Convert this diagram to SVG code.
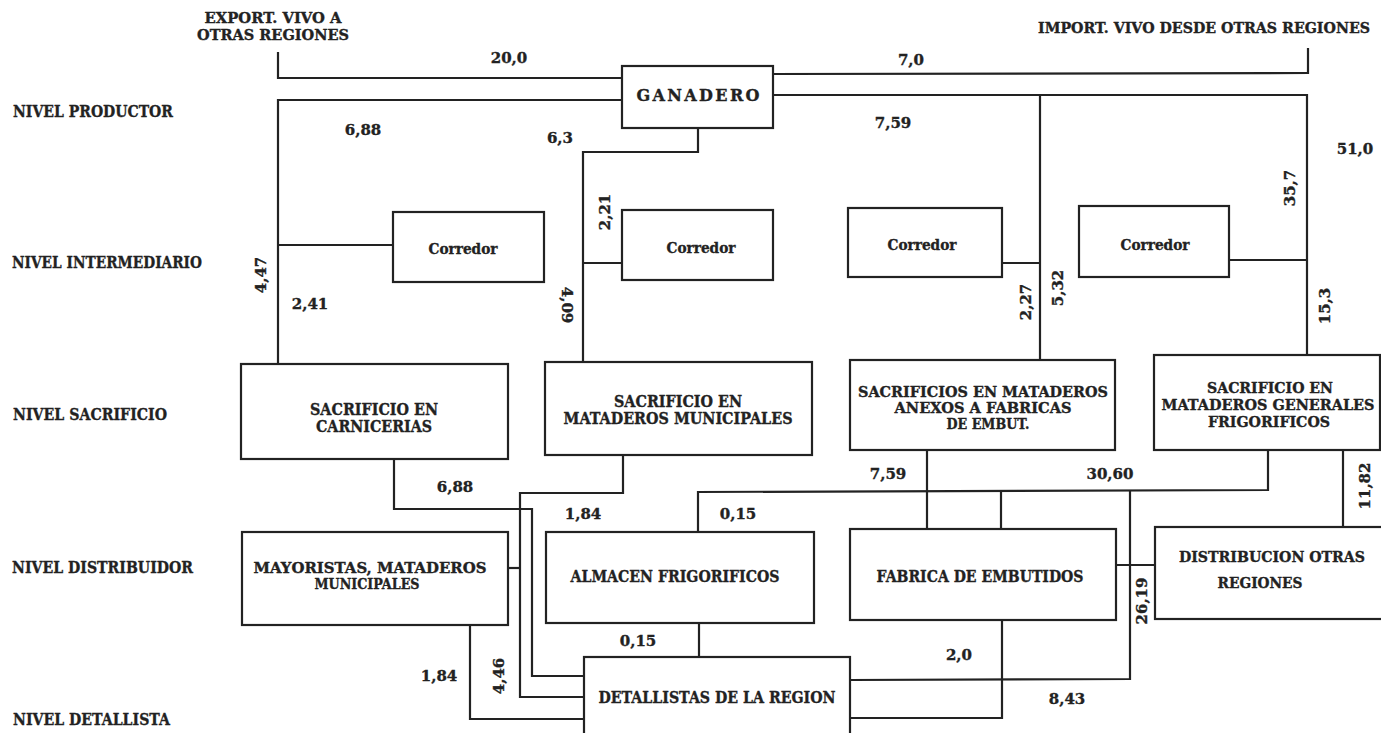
<svg xmlns="http://www.w3.org/2000/svg" width="1381" height="733" viewBox="0 0 1381 733">
<style>
.bx{fill:none;stroke:#222;stroke-width:2.2}
.ln{fill:none;stroke:#222;stroke-width:2.2}
text{font-family:"DejaVu Serif","Liberation Serif",serif;font-weight:bold;fill:#222;stroke:#222;stroke-width:0.35}
.t{font-size:16px;text-anchor:middle}
.s{font-size:14px;text-anchor:middle}
.lv{font-size:17px}
.n{font-size:15px;text-anchor:middle}
.c{font-size:15px;text-anchor:middle}
</style>
<rect width="1381" height="733" fill="#fff"/>
<g id="levels">
<text class="lv" x="13" y="117" textLength="160" lengthAdjust="spacingAndGlyphs">NIVEL PRODUCTOR</text>
<text class="lv" x="12" y="268" textLength="190" lengthAdjust="spacingAndGlyphs">NIVEL INTERMEDIARIO</text>
<text class="lv" x="13" y="420" textLength="154" lengthAdjust="spacingAndGlyphs">NIVEL SACRIFICIO</text>
<text class="lv" x="12" y="573" textLength="181" lengthAdjust="spacingAndGlyphs">NIVEL DISTRIBUIDOR</text>
<text class="lv" x="13" y="725" textLength="157" lengthAdjust="spacingAndGlyphs">NIVEL DETALLISTA</text>
</g>
<g id="export">
<text class="s" x="273" y="23" textLength="137" lengthAdjust="spacingAndGlyphs">EXPORT. VIVO A</text>
<text class="s" x="273" y="40" textLength="152" lengthAdjust="spacingAndGlyphs">OTRAS REGIONES</text>
</g>
<g id="import">
<text class="s" x="1204" y="33" textLength="332" lengthAdjust="spacingAndGlyphs">IMPORT. VIVO DESDE OTRAS REGIONES</text>
</g>
<g id="connectors">
<polyline class="ln" points="278,52 278,78 622,78"/>
<polyline class="ln" points="622,100 278,100 278,364"/>
<polyline class="ln" points="278,245 393,245"/>
<polyline class="ln" points="698,128 698,152 583,152 583,362"/>
<polyline class="ln" points="583,263 622,263"/>
<polyline class="ln" points="773,74 1308,73 1308,48"/>
<polyline class="ln" points="773,95 1307,95 1307,355"/>
<polyline class="ln" points="1040,95 1040,360"/>
<polyline class="ln" points="1040,263 1002,263"/>
<polyline class="ln" points="1307,260 1229,260"/>
<polyline class="ln" points="394,459 394,509 532,509 532,676 584,676"/>
<polyline class="ln" points="623,455 623,493 520,493 520,697 584,697"/>
<polyline class="ln" points="508,568 520,568"/>
<polyline class="ln" points="470,625 470,719 584,719"/>
<polyline class="ln" points="699,623 699,657"/>
<polyline class="ln" points="698,532 698,492 1268,490 1268,450"/>
<polyline class="ln" points="927,450 927,529"/>
<polyline class="ln" points="1001,491 1001,529"/>
<polyline class="ln" points="1130,490 1130,679 850,680"/>
<polyline class="ln" points="1116,565 1155,565"/>
<polyline class="ln" points="1002,620 1002,718 850,718"/>
<polyline class="ln" points="1343,450 1343,527"/>
</g>
<g id="labels">
<text class="n" x="509" y="63">20,0</text>
<text class="n" x="911" y="65">7,0</text>
<text class="n" x="363" y="135">6,88</text>
<text class="n" x="560" y="143">6,3</text>
<text class="n" x="893" y="128">7,59</text>
<text class="n" x="1355" y="154">51,0</text>
<text class="n" x="310" y="309">2,41</text>
<text class="n" transform="translate(266,275) rotate(-90)">4,47</text>
<text class="n" transform="translate(610,212) rotate(-90)">2,21</text>
<text class="n" transform="translate(562,305) rotate(90)">4,09</text>
<text class="n" transform="translate(1031,302) rotate(-90)">2,27</text>
<text class="n" transform="translate(1063,288) rotate(-90)">5,32</text>
<text class="n" transform="translate(1295,188) rotate(-90)">35,7</text>
<text class="n" transform="translate(1330,306) rotate(-90)">15,3</text>
<text class="n" x="455" y="492">6,88</text>
<text class="n" x="888" y="479">7,59</text>
<text class="n" x="1110" y="479">30,60</text>
<text class="n" transform="translate(1370,486) rotate(-90)">11,82</text>
<text class="n" x="583" y="519">1,84</text>
<text class="n" x="738" y="519">0,15</text>
<text class="n" x="638" y="646">0,15</text>
<text class="n" x="439" y="681">1,84</text>
<text class="n" transform="translate(504,676) rotate(-90)">4,46</text>
<text class="n" transform="translate(1147,601) rotate(-90)">26,19</text>
<text class="n" x="959" y="660">2,0</text>
<text class="n" x="1067" y="704">8,43</text>
</g>
<g id="ganadero">
<rect class="bx" x="622" y="66" width="151" height="62"/>
<text class="t" x="698" y="101" textLength="123" lengthAdjust="spacing">GANADERO</text>
</g>
<g id="corredor1">
<rect class="bx" x="393" y="212" width="151" height="70"/>
<text class="c" x="463" y="254" textLength="69" lengthAdjust="spacingAndGlyphs">Corredor</text>
</g>
<g id="corredor2">
<rect class="bx" x="622" y="210" width="151" height="70"/>
<text class="c" x="701" y="253" textLength="69" lengthAdjust="spacingAndGlyphs">Corredor</text>
</g>
<g id="corredor3">
<rect class="bx" x="848" y="208" width="154" height="69"/>
<text class="c" x="922" y="250" textLength="69" lengthAdjust="spacingAndGlyphs">Corredor</text>
</g>
<g id="corredor4">
<rect class="bx" x="1079" y="206" width="150" height="71"/>
<text class="c" x="1155" y="250" textLength="69" lengthAdjust="spacingAndGlyphs">Corredor</text>
</g>
<g id="carnicerias">
<rect class="bx" x="241" y="364" width="267" height="95"/>
<text class="t" x="374" y="415" textLength="128" lengthAdjust="spacingAndGlyphs">SACRIFICIO EN</text>
<text class="t" x="374" y="432" textLength="116" lengthAdjust="spacingAndGlyphs">CARNICERIAS</text>
</g>
<g id="mataderos-municipales">
<rect class="bx" x="545" y="362" width="267" height="93"/>
<text class="t" x="678" y="407" textLength="128" lengthAdjust="spacingAndGlyphs">SACRIFICIO EN</text>
<text class="t" x="678" y="424" textLength="229" lengthAdjust="spacingAndGlyphs">MATADEROS MUNICIPALES</text>
</g>
<g id="mataderos-anexos">
<rect class="bx" x="850" y="360" width="265" height="90"/>
<text class="s" x="983" y="397" textLength="250" lengthAdjust="spacingAndGlyphs">SACRIFICIOS EN MATADEROS</text>
<text class="s" x="983" y="413" textLength="177" lengthAdjust="spacingAndGlyphs">ANEXOS A FABRICAS</text>
<text class="s" x="988" y="429" textLength="83" lengthAdjust="spacingAndGlyphs">DE EMBUT.</text>
</g>
<g id="mataderos-generales">
<rect class="bx" x="1154" y="355" width="226" height="95"/>
<text class="s" x="1270" y="393" textLength="126" lengthAdjust="spacingAndGlyphs">SACRIFICIO EN</text>
<text class="s" x="1268" y="410" textLength="213" lengthAdjust="spacingAndGlyphs">MATADEROS GENERALES</text>
<text class="s" x="1269" y="427" textLength="122" lengthAdjust="spacingAndGlyphs">FRIGORIFICOS</text>
</g>
<g id="mayoristas">
<rect class="bx" x="242" y="532" width="266" height="93"/>
<text class="s" x="370" y="573" textLength="233" lengthAdjust="spacingAndGlyphs">MAYORISTAS, MATADEROS</text>
<text class="s" x="367" y="589" textLength="105" lengthAdjust="spacingAndGlyphs">MUNICIPALES</text>
</g>
<g id="almacen">
<rect class="bx" x="546" y="532" width="268" height="91"/>
<text class="t" x="675" y="582" textLength="209" lengthAdjust="spacingAndGlyphs">ALMACEN FRIGORIFICOS</text>
</g>
<g id="fabrica">
<rect class="bx" x="850" y="529" width="266" height="91"/>
<text class="t" x="980" y="582" textLength="207" lengthAdjust="spacingAndGlyphs">FABRICA DE EMBUTIDOS</text>
</g>
<g id="distribucion">
<rect class="bx" x="1155" y="527" width="228" height="92"/>
<text class="s" x="1272" y="562" textLength="186" lengthAdjust="spacingAndGlyphs">DISTRIBUCION OTRAS</text>
<text class="s" x="1260" y="588" textLength="85" lengthAdjust="spacingAndGlyphs">REGIONES</text>
</g>
<g id="detallistas">
<rect class="bx" x="584" y="657" width="266" height="90"/>
<text class="t" x="717" y="703" textLength="237" lengthAdjust="spacingAndGlyphs">DETALLISTAS DE LA REGION</text>
</g>
</svg>
